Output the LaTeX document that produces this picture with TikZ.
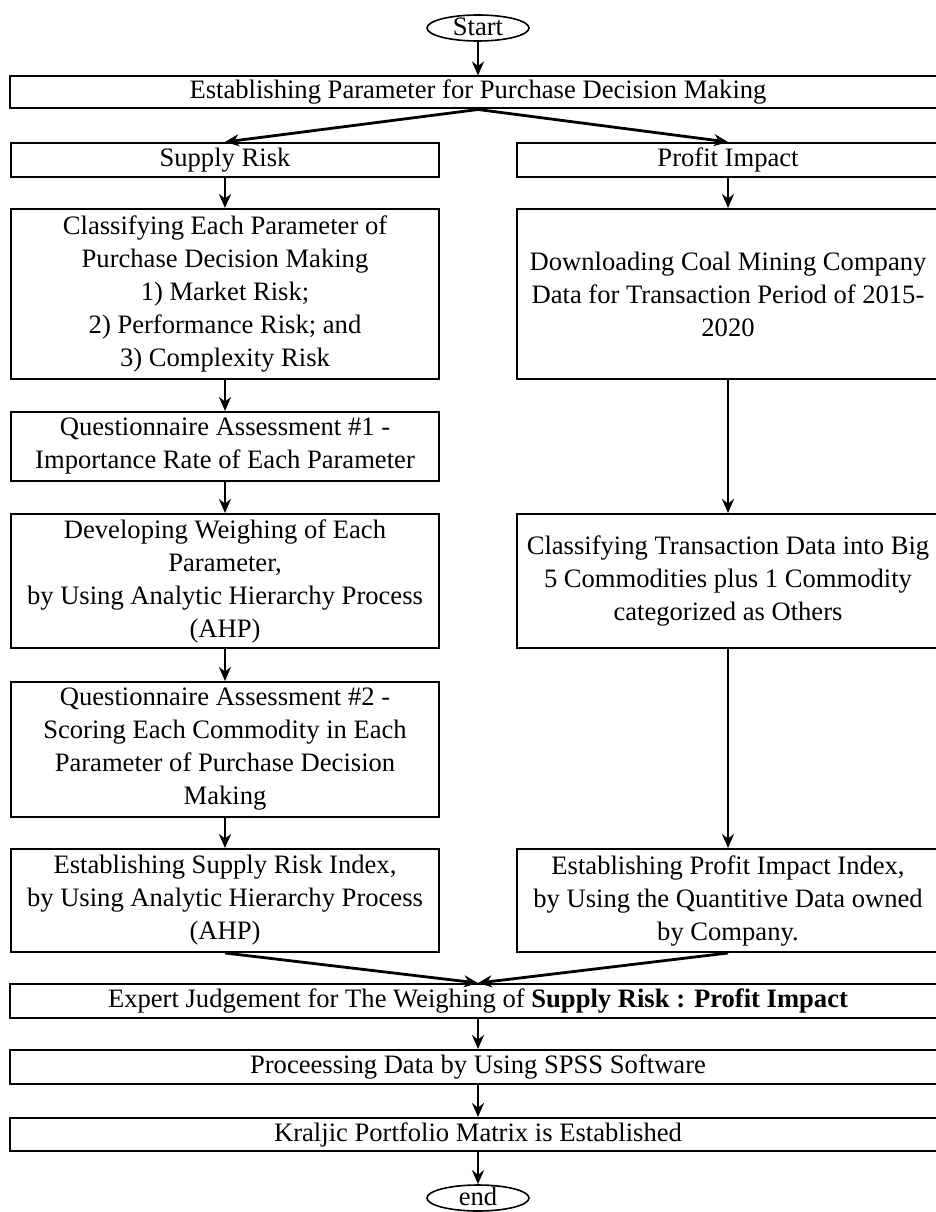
\documentclass[tikz,border=0pt]{standalone}
\usepackage{fontspec}
\setmainfont{Liberation Serif}
\usetikzlibrary{shapes.geometric,arrows.meta}

\begin{document}
\begin{tikzpicture}[x=1pt, y=-1pt, >={Stealth[length=14pt,width=12pt]},
    txt/.style={font=\fontsize{26.6}{33}\selectfont, align=center, inner sep=0pt},
    box/.style={txt, draw, line width=2pt},
    leftbox/.style={box, minimum width=428pt},
    rightbox/.style={box, minimum width=422pt},
    widebox/.style={box, minimum width=936pt},
    term/.style={txt, draw, ellipse, line width=1.6pt, minimum width=102pt, minimum height=26pt, text height=15pt, text depth=0pt},
    arr/.style={->, line width=2.8pt}]
  \useasboundingbox (0,0) rectangle (935,1212);

% top
    \node[term] (start) at (478,28) {Start};
    \node[widebox, minimum height=32pt] (param) at (478,92.5) {Establishing Parameter for Purchase Decision Making};

% supply risk column
    \node[leftbox, minimum height=34pt] (supply) at (225,160) {Supply Risk};
    \node[leftbox, minimum height=170pt] (classify) at (225,294) {Classifying Each Parameter of\\Purchase Decision Making\\1) Market Risk;\\2) Performance Risk; and\\3) Complexity Risk};
    \node[leftbox, minimum height=69pt] (quest1) at (225,446.5) {Questionnaire Assessment \#1 -\\Importance Rate of Each Parameter};
    \node[leftbox, minimum height=134pt] (weigh) at (225,581) {Developing Weighing of Each\\Parameter,\\by Using Analytic Hierarchy Process\\(AHP)};
    \node[leftbox, minimum height=135pt] (quest2) at (225,749.5) {Questionnaire Assessment \#2 -\\Scoring Each Commodity in Each\\Parameter of Purchase Decision\\Making};
    \node[leftbox, minimum height=103pt] (sri) at (225,900.5) {Establishing Supply Risk Index,\\by Using Analytic Hierarchy Process\\(AHP)};

% profit impact column
    \node[rightbox, minimum height=34pt] (profit) at (728,160) {Profit Impact};
    \node[rightbox, minimum height=170pt] (download) at (728,294) {Downloading Coal Mining Company\\Data for Transaction Period of 2015-\\2020};
    \node[rightbox, minimum height=134pt] (classtrans) at (728,581) {Classifying Transaction Data into Big\\5 Commodities plus 1 Commodity\\categorized as Others};
    \node[rightbox, minimum height=103pt] (pii) at (728,900.5) {Establishing Profit Impact Index,\\by Using the Quantitive Data owned\\by Company.};

% bottom
    \node[widebox, minimum height=34pt] (expert) at (478,1001) {Expert Judgement for The Weighing of \textbf{Supply Risk : Profit Impact}};
    \node[widebox, minimum height=34pt] (spss) at (478,1067) {Proceessing Data by Using SPSS Software};
    \node[widebox, minimum height=33pt] (kraljic) at (478,1134.5) {Kraljic Portfolio Matrix is Established};
    \node[term] (finish) at (478,1198) {end};

% arrows
    \draw[arr] (start) -- (param);
    \draw[arr] (param.south) -- (supply.north);
    \draw[arr] (param.south) -- (profit.north);
    \draw[arr] (supply) -- (classify);
    \draw[arr] (classify) -- (quest1);
    \draw[arr] (quest1) -- (weigh);
    \draw[arr] (weigh) -- (quest2);
    \draw[arr] (quest2) -- (sri);
    \draw[arr] (profit) -- (download);
    \draw[arr] (download) -- (classtrans);
    \draw[arr] (classtrans) -- (pii);
    \draw[arr] (sri.south) -- (expert.north);
    \draw[arr] (pii.south) -- (expert.north);
    \draw[arr] (expert) -- (spss);
    \draw[arr] (spss) -- (kraljic);
    \draw[arr] (kraljic) -- (finish);
\end{tikzpicture}
\end{document}
